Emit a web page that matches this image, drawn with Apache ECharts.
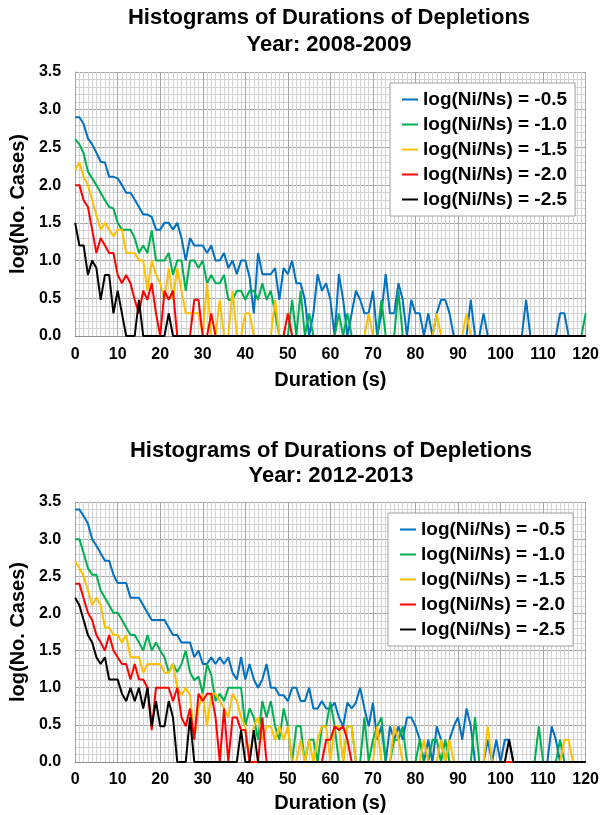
<!DOCTYPE html>
<html>
<head>
<meta charset="utf-8">
<script src="https://cdn.jsdelivr.net/npm/echarts@6/dist/echarts.min.js"></script>
<style>
  html, body { margin: 0; background: #fff; }
  #chart { width: 602px; height: 815px; }
</style>
</head>
<body>
<div id="chart"></div>
<script>
// log(No. Cases) per 1 s duration bin, 0..120 s
var seriesNames = ['log(Ni/Ns) = -0.5', 'log(Ni/Ns) = -1.0', 'log(Ni/Ns) = -1.5', 'log(Ni/Ns) = -2.0', 'log(Ni/Ns) = -2.5']
var seriesColors = ['#0070C0', '#00B050', '#FFC000', '#FF0000', '#000000']
var xTicks = [0, 10, 20, 30, 40, 50, 60, 70, 80, 90, 100, 110, 120]
var yTicks = [0.0, 0.5, 1.0, 1.5, 2.0, 2.5, 3.0, 3.5]

// Year 2008-2009
var blue08 = [2.9,2.9,2.81,2.62,2.54,2.43,2.31,2.3,2.11,2.11,
  2.09,2.0,1.9,1.9,1.81,1.71,1.61,1.61,1.58,1.41,
  1.41,1.5,1.5,1.41,1.5,1.3,1.0,1.3,1.2,1.2,
  1.2,1.1,1.2,1.0,1.0,1.1,0.9,1.0,0.82,1.0,
  1.0,0.78,0.3,1.1,0.82,0.82,0.82,0.9,0.48,0.9,
  0.82,1.0,0.7,0.7,0.48,0,0.3,0.82,0.6,0.7,
  0.48,0,0.82,0.48,0,0.3,0.6,0.48,0.3,0.3,
  0.6,0,0.3,0.82,0.3,0.3,0.7,0.48,0,0.48,
  0.3,0.3,0,0.3,0,0.3,0.48,0.48,0.3,0,
  0,0,0,0.48,0,0,0.3,0,0,0,
  0,0,0,0,0,0,0.48,0,0,0,
  0,0,0,0,0.3,0.3,0,0,0,0,
  0]
var green08 = [2.61,2.54,2.42,2.18,2.09,2.0,1.9,1.8,1.71,1.69,
  1.5,1.41,1.41,1.41,1.3,1.1,1.2,1.1,1.4,1.0,
  1.0,1.0,1.1,0.81,1.0,1.0,0.6,1.0,1.0,0.9,
  1.0,0.7,0.81,0.7,0.7,0.81,0.48,0.48,0.6,0.6,
  0.48,0.6,0.6,0.48,0.7,0.48,0.6,0.3,0,0,
  0,0.48,0,0.6,0,0.3,0,0,0,0,
  0,0,0.3,0,0.3,0,0,0,0,0,
  0,0,0.48,0,0,0,0.6,0,0,0,
  0,0,0,0,0,0,0,0,0,0,
  0,0,0,0,0,0,0,0,0,0,
  0,0,0,0,0,0,0,0,0,0,
  0,0,0,0,0,0,0,0,0,0,
  0.3]
var yellow08 = [2.2,2.3,2.11,2.0,1.8,1.6,1.41,1.5,1.41,1.32,
  1.41,1.41,1.1,1.1,1.1,1.0,1.0,0.6,1.0,0.81,
  0.7,0.48,0.9,0.48,0.9,0.6,0.3,0.3,0.3,0.3,
  0,0.7,0,0,0.48,0,0,0.6,0,0,
  0.3,0.3,0,0,0,0,0,0.48,0,0,
  0,0,0,0,0,0,0,0,0,0,
  0,0,0,0,0,0,0,0,0,0.3,
  0,0,0,0,0,0,0,0,0,0,
  0,0,0,0,0,0.3,0,0,0,0,
  0,0,0.3,0,0,0,0,0,0,0,
  0,0,0,0,0,0,0,0,0,0,
  0,0,0,0,0,0,0,0,0,0,
  0]
var red08 = [2.0,2.0,1.8,1.71,1.41,1.1,1.3,1.2,1.1,1.1,
  0.81,0.7,0.81,0.7,0.48,0.3,0.6,0.48,0.7,0.3,
  0,0.6,0.48,0.6,0,0,0,0,0.48,0.48,
  0,0,0.3,0,0,0,0,0,0,0,
  0,0,0,0,0,0,0,0,0,0,
  0.3,0,0,0,0,0,0,0,0,0,
  0,0,0,0,0,0,0,0,0,0,
  0,0,0,0,0,0,0,0,0,0,
  0,0,0,0,0,0,0,0,0,0,
  0,0,0,0,0,0,0,0,0,0,
  0,0,0,0,0,0,0,0,0,0,
  0,0,0,0,0,0,0,0,0,0,
  0]
var black08 = [1.5,1.2,1.2,0.81,1.0,0.9,0.48,0.81,0.81,0.3,
  0.6,0.3,0,0,0,0.48,0,0,0,0,
  0,0,0.3,0,0,0,0,0,0,0,
  0,0,0,0,0,0,0,0,0,0,
  0,0,0,0,0,0,0,0,0,0,
  0,0,0,0,0,0,0,0,0,0,
  0,0,0,0,0,0,0,0,0,0,
  0,0,0,0,0,0,0,0,0,0,
  0,0,0,0,0,0,0,0,0,0,
  0,0,0,0,0,0,0,0,0,0,
  0,0,0,0,0,0,0,0,0,0,
  0,0,0,0,0,0,0,0,0,0,
  0]

// Year 2012-2013
var blue12 = [3.4,3.4,3.31,3.21,3.0,2.91,2.81,2.71,2.71,2.52,
  2.41,2.41,2.41,2.21,2.21,2.21,2.11,2.01,1.91,1.91,
  1.91,1.91,1.81,1.71,1.71,1.61,1.61,1.61,1.41,1.5,
  1.32,1.32,1.41,1.32,1.41,1.32,1.41,1.2,1.11,1.41,
  1.11,1.32,1.11,1.0,1.11,1.32,1.0,1.0,0.9,0.9,
  0.82,1.0,1.0,0.82,0.82,1.0,0.72,0.72,0.82,0.72,
  0.72,0.8,0.6,0.48,0.8,0.72,0.8,1.0,0.72,0.48,
  0.8,0.3,0.48,0,0.48,0.3,0.48,0.3,0.6,0.6,
  0.48,0.3,0,0.3,0,0.48,0.3,0,0.3,0.48,
  0.6,0.3,0.72,0.48,0,0,0,0.3,0,0.3,
  0,0.3,0.3,0,0,0,0,0,0,0,
  0,0,0.48,0.3,0,0,0,0,0,0,
  0]
var green12 = [3.0,3.0,2.81,2.61,2.52,2.52,2.31,2.21,2.11,2.01,
  2.01,1.91,1.81,1.71,1.71,1.61,1.5,1.71,1.5,1.61,
  1.5,1.41,1.21,1.32,1.21,1.32,1.5,1.21,1.1,1.15,
  0.92,1.32,1.17,0.82,0.92,0.82,1.0,1.0,1.0,1.0,
  0.48,0.72,0.6,0.3,0.82,0.6,0.82,0.48,0.3,0.72,
  0.48,0,0.48,0.48,0,0.3,0.3,0,0.48,0.48,
  0.81,0.48,0,0,0.48,0.48,0,0,0.6,0,
  0.3,0.48,0.6,0,0,0.3,0.3,0.48,0,0,
  0,0.3,0,0,0.3,0.3,0,0.3,0,0,
  0,0,0,0,0.6,0,0,0,0,0,
  0,0,0,0,0,0,0,0,0,0.48,
  0,0,0,0,0.3,0,0,0,0,0,
  0]
var yellow12 = [2.7,2.61,2.5,2.31,2.11,2.21,2.11,1.81,1.81,1.71,
  1.71,1.61,1.71,1.41,1.41,1.41,1.2,1.32,1.32,1.32,
  1.32,1.2,1.2,1.32,1.0,0.9,1.0,0.9,0.3,0.72,
  0.92,0.48,0.92,0.92,0.82,0.72,0.6,0.92,0.82,0.6,
  0.48,0,0.48,0.6,0.3,0.48,0.48,0.3,0.48,0.3,
  0.48,0,0,0.3,0,0.3,0,0.3,0.48,0.48,
  0,0.48,0.48,0,0.48,0.48,0,0,0,0,
  0,0.48,0,0,0,0.48,0.3,0,0,0,
  0,0,0.3,0,0,0,0.3,0,0.3,0,
  0,0,0,0,0,0,0,0.48,0,0,
  0,0,0,0,0,0,0,0,0,0,
  0,0,0,0,0,0.3,0.3,0,0,0,
  0]
var red12 = [2.4,2.4,2.2,2.01,1.91,1.71,1.61,1.5,1.71,1.5,
  1.41,1.32,1.32,1.11,1.32,1.11,1.11,1.0,0.43,1.0,
  1.0,1.0,1.0,0.82,1.0,0.6,0.48,0.72,0.3,0.92,
  0.82,0.92,0.92,0.6,0,0.72,0,0.6,0.6,0.43,
  0.43,0,0,0,0.6,0,0,0,0,0,
  0,0,0,0,0,0,0,0,0,0.3,
  0.3,0.48,0.43,0.48,0.3,0,0,0,0,0,
  0,0,0,0,0,0,0,0,0,0,
  0,0,0,0,0,0,0,0,0,0,
  0,0,0,0,0,0,0,0,0,0,
  0,0,0,0,0,0,0,0,0,0,
  0,0,0,0,0,0,0,0,0,0,
  0]
var black12 = [2.21,2.11,1.91,1.71,1.61,1.41,1.32,1.41,1.11,1.11,
  1.11,0.92,0.82,1.0,0.82,1.0,0.72,1.0,0.48,0.82,
  0.48,0.48,0.82,0.6,0,0,0,0.6,0,0,
  0,0,0,0,0,0,0,0,0,0.43,
  0,0,0.43,0,0,0,0,0,0,0,
  0,0,0,0,0,0,0,0,0,0,
  0,0,0,0,0,0,0,0,0,0,
  0,0,0,0,0,0,0,0,0,0,
  0,0,0,0,0,0,0,0,0,0,
  0,0,0,0,0,0,0,0,0,0,
  0,0,0.3,0,0,0,0,0,0,0,
  0,0,0,0,0,0,0,0,0,0,
  0]

var data08 = [blue08, green08, yellow08, red08, black08]
var data12 = [blue12, green12, yellow12, red12, black12]

var FONT = '"Liberation Sans", Arial, sans-serif'
var chart = echarts.init(document.getElementById('chart'), null, { renderer: 'canvas' })

// x = duration in seconds (array index)
function toPoints(vals) {
  return vals.map(function (v, i) { return [i, v] })
}

function xAxisFor(idx, margin, gap) {
  return {
    gridIndex: idx, type: 'value', min: xTicks[0], max: xTicks[xTicks.length - 1], interval: 10,
    name: 'Duration (s)', nameLocation: 'middle', nameGap: gap,
    nameTextStyle: { fontFamily: FONT, fontWeight: 'bold', fontSize: 20, color: '#000' },
    axisLine: { show: true, lineStyle: { color: '#8c8c8c', width: 1 } },
    axisTick: { show: false },
    axisLabel: { margin: margin, fontFamily: FONT, fontWeight: 'bold', fontSize: 16, color: '#000' },
    splitLine: { show: true, lineStyle: { color: '#a6a6a6', width: 1 } },
    minorTick: { show: false, splitNumber: 10 },
    minorSplitLine: { show: true, lineStyle: { color: '#d2d2d2', width: 1 } }
  }
}

function yAxisFor(idx, gap) {
  return {
    gridIndex: idx, type: 'value', min: yTicks[0], max: yTicks[yTicks.length - 1], interval: 0.5,
    name: 'log(No. Cases)', nameLocation: 'middle', nameGap: gap,
    nameTextStyle: { fontFamily: FONT, fontWeight: 'bold', fontSize: 20, color: '#000' },
    axisLine: { show: true, lineStyle: { color: '#a6a6a6', width: 1 } },
    axisTick: { show: false },
    axisLabel: { margin: 14, fontFamily: FONT, fontWeight: 'bold', fontSize: 16, color: '#000',
      formatter: function (v) { return v.toFixed(1) } },
    splitLine: { show: true, lineStyle: { color: '#a6a6a6', width: 1 } },
    minorTick: { show: false, splitNumber: 5 },
    minorSplitLine: { show: true, lineStyle: { color: '#d2d2d2', width: 1 } }
  }
}

function legendFor(top, left) {
  return {
    orient: 'vertical', left: left, top: top,
    padding: [6, 8, 6, 12],
    backgroundColor: '#fff', borderColor: '#a0a0a0', borderWidth: 1,
    icon: 'rect', itemWidth: 16, itemHeight: 2, itemGap: 4,
    data: seriesNames,
    textStyle: { fontFamily: FONT, fontWeight: 'bold', fontSize: 19, lineHeight: 21, color: '#000' }
  }
}

var series = []
;[data08, data12].forEach(function (set, g) {
  set.forEach(function (vals, k) {
    series.push({
      name: seriesNames[k], type: 'line', xAxisIndex: g, yAxisIndex: g,
      data: toPoints(vals), showSymbol: false, symbol: 'none',
      lineStyle: { color: seriesColors[k], width: 2 },
      itemStyle: { color: seriesColors[k] },
      animation: false, silent: true
    })
  })
})

var titleStyle = { fontFamily: FONT, fontWeight: 'bold', fontSize: 22, fill: '#000', textAlign: 'center' }

chart.setOption({
  backgroundColor: '#fff',
  animation: false,
  graphic: [
    { type: 'text', x: 329, y: 7, style: Object.assign({ text: 'Histograms of Durations of Depletions' }, titleStyle) },
    { type: 'text', x: 329, y: 34, style: Object.assign({ text: 'Year: 2008-2009' }, titleStyle) },
    { type: 'text', x: 331, y: 440, style: Object.assign({ text: 'Histograms of Durations of Depletions' }, titleStyle) },
    { type: 'text', x: 331, y: 465, style: Object.assign({ text: 'Year: 2012-2013' }, titleStyle) }
  ],
  grid: [
    { left: 70, top: 72, width: 518, height: 264 },
    { left: 74, top: 502, width: 514, height: 260 }
  ],
  xAxis: [xAxisFor(0, 11, 34), xAxisFor(1, 10, 31)],
  yAxis: [yAxisFor(0, 42), yAxisFor(1, 46)],
  legend: [legendFor(83, 390), legendFor(513, 388)],
  series: series
})
</script>
</body>
</html>
